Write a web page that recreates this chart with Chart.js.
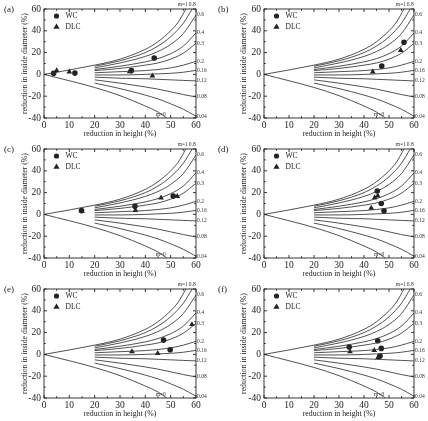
<!DOCTYPE html>
<html lang="en">
<head>
  <meta charset="UTF-8">
  <title>Ring compression calibration curves</title>
  <script src="https://cdn.jsdelivr.net/npm/chart.js"></script>
  <style>
    body {
      margin: 0;
      background: #fff;
      width: 428px;
      height: 421px;
      position: relative;
      overflow: hidden;
    }
    .panel {
      position: absolute;
      width: 214px;
      height: 140px;
    }
  </style>
</head>
<body>
  <div class="panel" style="left:0;top:0"><canvas id="pa"></canvas></div>
  <div class="panel" style="left:214px;top:0"><canvas id="pb"></canvas></div>
  <div class="panel" style="left:0;top:140px"><canvas id="pc"></canvas></div>
  <div class="panel" style="left:214px;top:140px"><canvas id="pd"></canvas></div>
  <div class="panel" style="left:0;top:280px"><canvas id="pe"></canvas></div>
  <div class="panel" style="left:214px;top:280px"><canvas id="pf"></canvas></div>

  <script>
    // axis ticks
    const xTicks = [0, 10, 20, 30, 40, 50, 60];
    const yTicks = [-40, -20, 0, 20, 40, 60];

    // friction factor calibration curves, [height reduction, ID reduction]
    const curveM1  = [[0, 0], [20, 8.5], [30, 14], [40, 23], [45, 30], [50, 40], [53, 48], [56, 60]];
    const curveM08 = [[20, 7.5], [30, 12.5], [40, 20], [45, 26], [50, 34.5], [55, 47], [58.5, 60]];
    const curveM06 = [[20, 6], [30, 10.5], [40, 16.5], [45, 21], [50, 27.5], [55, 37.5], [60, 54.5]];
    const curveM04 = [[20, 4.5], [30, 7.5], [40, 11.5], [45, 14.5], [50, 19], [55, 26], [60, 38]];
    const curveM03 = [[20, 3.5], [30, 5.5], [40, 8.5], [45, 10.5], [50, 14], [55, 19.5], [60, 28.5]];
    const curveM02 = [[20, 1.5], [30, 2.5], [40, 3.5], [45, 4.5], [50, 6], [55, 8.5], [60, 12]];
    const curveM016 = [[20, -0.5], [30, -0.5], [40, 0], [45, 0.5], [50, 1], [55, 2], [60, 3.7]];
    const curveM012 = [[20, -2.5], [30, -3.5], [40, -4], [45, -4.5], [50, -5], [55, -5.5], [60, -6]];
    const curveM008 = [[20, -5], [30, -8], [40, -11.5], [45, -13.5], [50, -16], [55, -18.5], [60, -20.7]];
    const curveM004 = [[20, -8], [30, -13], [40, -19], [45, -22.5], [50, -27], [55, -32], [60, -38.4]];
    const curveM0  = [[0, 0], [20, -12], [30, -19.5], [40, -29], [45, -34.5], [48.5, -40]];

    const curves = [
      { label: 'm=1', pts: curveM1 },
      { label: '0.8', pts: curveM08 },
      { label: '0.6', pts: curveM06 },
      { label: '0.4', pts: curveM04 },
      { label: '0.3', pts: curveM03 },
      { label: '0.2', pts: curveM02 },
      { label: '0.16', pts: curveM016 },
      { label: '0.12', pts: curveM012 },
      { label: '0.08', pts: curveM008 },
      { label: '0.04', pts: curveM004 },
      { label: 'm=0', pts: curveM0 }
    ];

    // measured rings
    const wcA  = [[3.8, 1], [12.2, 1.2], [34.5, 3.5], [43.5, 15]];
    const dlcA = [[5, 3.5], [10, 2.3], [33.8, 2.5], [42.8, -1.3]];
    const wcB  = [[47.1, 7.6], [56, 29.5]];
    const dlcB = [[43.5, 2.4], [54.7, 22]];
    const wcC  = [[14.8, 3.5], [35.9, 7.5], [51, 16.8]];
    const dlcC = [[15, 2.8], [36.1, 3.7], [46.2, 15.2], [52.6, 16.5]];
    const wcD  = [[45.3, 21.5], [46.9, 10], [48, 3.4]];
    const dlcD = [[42.9, 5.8], [44.3, 15.5], [45.5, 17]];
    const wcE  = [[47.2, 13.1], [49.8, 4.2]];
    const dlcE = [[34.7, 2.6], [44.9, 0.9], [58.4, 27.5]];
    const wcF  = [[34.1, 6.8], [45.5, 12.5], [46.9, 5.5], [46.4, -1.5]];
    const dlcF = [[34.4, 2.5], [44.1, 3.7], [45.6, -3]];

    const panels = [
      { id: 'pa', tag: '(a)', wc: wcA, dlc: dlcA, left: true },
      { id: 'pb', tag: '(b)', wc: wcB, dlc: dlcB, left: false },
      { id: 'pc', tag: '(c)', wc: wcC, dlc: dlcC, left: true },
      { id: 'pd', tag: '(d)', wc: wcD, dlc: dlcD, left: false },
      { id: 'pe', tag: '(e)', wc: wcE, dlc: dlcE, left: true },
      { id: 'pf', tag: '(f)', wc: wcF, dlc: dlcF, left: false }
    ];

    const SERIF = "'Liberation Serif', 'DejaVu Serif', serif";
    const INK = '#222';
    const toXY = arr => arr.map(p => ({ x: p[0], y: p[1] }));

    // frame, inward ticks, curve labels, legend, panel tag
    const decorPlugin = {
      id: 'decor',
      afterDraw(chart, args, opts) {
        const { ctx, chartArea: a, scales: { x, y } } = chart;
        ctx.save();
        ctx.strokeStyle = INK;
        ctx.lineWidth = 0.9;
        ctx.strokeRect(a.left, a.top, a.right - a.left, a.bottom - a.top);

        const seg = (x1, y1, x2, y2) => {
          ctx.beginPath(); ctx.moveTo(x1, y1); ctx.lineTo(x2, y2); ctx.stroke();
        };
        for (let v = xTicks[0]; v <= xTicks[xTicks.length - 1]; v += 5) {
          const px = x.getPixelForValue(v);
          const len = xTicks.includes(v) ? 3 : 1.8;
          seg(px, a.bottom, px, a.bottom - len);
          seg(px, a.top, px, a.top + len);
        }
        for (let v = yTicks[0]; v <= yTicks[yTicks.length - 1]; v += 10) {
          const py = y.getPixelForValue(v);
          const len = yTicks.includes(v) ? 3 : 1.8;
          seg(a.left, py, a.left + len, py);
          seg(a.right, py, a.right - len, py);
        }

        // curve labels
        ctx.fillStyle = '#333';
        ctx.font = '5.5px ' + SERIF;
        ctx.textBaseline = 'middle';
        curves.forEach((c, i) => {
          const last = c.pts[c.pts.length - 1];
          const px = x.getPixelForValue(last[0]);
          const py = y.getPixelForValue(last[1]);
          if (i === 0) {
            ctx.textAlign = 'right';
            ctx.fillText(c.label, px + 2, a.top - 4);
          } else if (i === 1) {
            ctx.textAlign = 'center';
            ctx.fillText(c.label, px, a.top - 4);
          } else if (i === curves.length - 1) {
            ctx.textAlign = 'right';
            ctx.fillText(c.label, px - 1, a.bottom - 3.5);
          } else {
            ctx.textAlign = 'left';
            ctx.fillText(c.label, a.right + 1, py);
          }
        });

        // legend
        const lx = a.left + 12.5;
        ctx.fillStyle = INK;
        ctx.beginPath();
        ctx.arc(lx, a.top + 7, 2.6, 0, Math.PI * 2);
        ctx.fill();
        const ty = a.top + 17.5;
        ctx.beginPath();
        ctx.moveTo(lx, ty - 3.1);
        ctx.lineTo(lx + 3.1, ty + 2.2);
        ctx.lineTo(lx - 3.1, ty + 2.2);
        ctx.closePath();
        ctx.fill();
        ctx.font = '7.5px ' + SERIF;
        ctx.textAlign = 'left';
        ctx.fillText('WC', lx + 9, a.top + 7.5);
        ctx.fillText('DLC', lx + 9, a.top + 18);

        // panel tag
        ctx.font = '9px ' + SERIF;
        ctx.fillText(opts.tag, 4, a.top + 1);
        ctx.restore();
      }
    };

    panels.forEach(p => {
      const datasets = curves.map(c => ({
        data: toXY(c.pts),
        showLine: true,
        borderColor: '#333',
        borderWidth: 0.85,
        pointRadius: 0,
        cubicInterpolationMode: 'monotone',
        fill: false
      }));
      datasets.push({
        label: 'WC',
        data: toXY(p.wc),
        pointStyle: 'circle',
        pointRadius: 2.8,
        backgroundColor: INK,
        borderColor: INK,
        borderWidth: 0
      });
      datasets.push({
        label: 'DLC',
        data: toXY(p.dlc),
        pointStyle: 'triangle',
        pointRadius: 3.3,
        backgroundColor: INK,
        borderColor: INK,
        borderWidth: 0
      });

      new Chart(document.getElementById(p.id), {
        type: 'scatter',
        data: { datasets },
        plugins: [decorPlugin],
        options: {
          responsive: true,
          maintainAspectRatio: false,
          animation: false,
          layout: {
            padding: { left: p.left ? 20 : 25, right: p.left ? 18 : 14, top: 9, bottom: 0 }
          },
          plugins: {
            legend: { display: false },
            tooltip: { enabled: false },
            decor: { tag: p.tag }
          },
          scales: {
            x: {
              type: 'linear',
              min: xTicks[0],
              max: xTicks[xTicks.length - 1],
              afterFit(s) { s.height = 22; },
              afterBuildTicks(s) { s.ticks = xTicks.map(v => ({ value: v })); },
              grid: { display: false, drawTicks: false },
              border: { display: false },
              ticks: { padding: 2, color: INK, font: { family: SERIF, size: 9.5 } },
              title: {
                display: true,
                text: 'reduction in height (%)',
                color: INK,
                padding: { top: 0, bottom: 1.5 },
                font: { family: SERIF, size: 7.8 }
              }
            },
            y: {
              type: 'linear',
              min: yTicks[0],
              max: yTicks[yTicks.length - 1],
              afterFit(s) { s.width = p.left ? 24 : 25; },
              afterBuildTicks(s) { s.ticks = yTicks.map(v => ({ value: v })); },
              grid: { display: false, drawTicks: false },
              border: { display: false },
              ticks: { padding: 3, color: INK, font: { family: SERIF, size: 9.5 } },
              title: {
                display: true,
                text: 'reduction in inside diameter (%)',
                color: INK,
                padding: { top: 0, bottom: 0 },
                font: { family: SERIF, size: 7.8 }
              }
            }
          }
        }
      });
    });
  </script>
</body>
</html>
